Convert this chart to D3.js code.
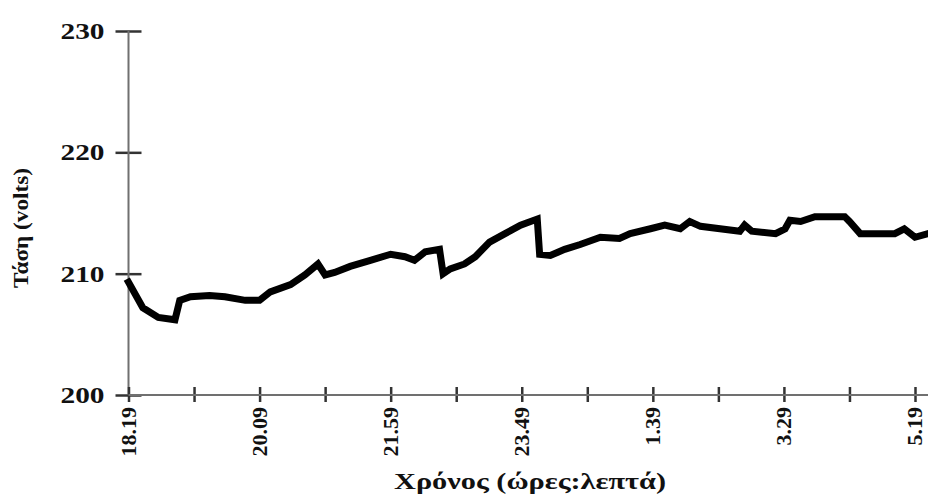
<!DOCTYPE html>
<html>
<head>
<meta charset="utf-8">
<script src="https://cdn.jsdelivr.net/npm/d3@7"></script>
<style>
  html, body { margin: 0; padding: 0; background: #fff; }
  svg { display: block; }
  text { font-family: "Liberation Serif", "Times New Roman", serif; font-weight: bold; }
</style>
</head>
<body>
<svg id="chart" width="928" height="495"></svg>
<script>
// Minutes elapsed since 18:19
const minutes = [0, 12, 25, 39, 43, 52, 68, 81, 98, 110, 119, 136, 148, 159, 165, 173, 186, 203, 220, 232,
                 240, 249, 261, 264, 270, 282, 291, 303, 316, 329, 343, 345, 354, 366, 379, 396, 412, 421, 438, 450,
                 463, 471, 480, 513, 517, 523, 543, 551, 555, 564, 576, 601, 605, 614, 631, 643, 651, 660, 671];
// Measured voltage (V)
const volts = [209.3, 207.2, 206.4, 206.2, 207.8, 208.1, 208.2, 208.1, 207.8, 207.8, 208.5, 209.1, 209.9, 210.8, 209.9, 210.1, 210.6, 211.1, 211.6, 211.4,
               211.1, 211.8, 212.0, 210.0, 210.4, 210.8, 211.4, 212.6, 213.3, 214.0, 214.5, 211.6, 211.5, 212.0, 212.4, 213.0, 212.9, 213.3, 213.7, 214.0,
               213.7, 214.3, 213.9, 213.5, 214.0, 213.5, 213.3, 213.7, 214.4, 214.3, 214.7, 214.7, 214.3, 213.3, 213.3, 213.3, 213.7, 213.0, 213.3];
// Axis ticks
const yTicks = [200, 210, 220, 230];
const xTickMinutes = [0, 55, 110, 165, 220, 275, 330, 385, 440, 495, 550, 605, 660];
const xTickLabels = ["18.19", "20.09", "21.59", "23.49", "1.39", "3.29", "5.19"];
const yTitle = "Τάση (volts)";
const xTitle = "Χρόνος (ώρες:λεπτά)";

const W = 928, H = 495;
const svg = d3.select("#chart");
const ink = "#111";

const x = d3.scaleLinear().domain([0, 660]).range([128.5, 915]);
const y = d3.scaleLinear().domain([200, 230]).range([395, 31]);
const axisColor = "#707070";

// Y axis
const yAxis = svg.append("g")
  .attr("transform", `translate(${x(0)},0)`)
  .call(d3.axisLeft(y).tickValues(yTicks).tickSize(13).tickPadding(11).tickFormat(d3.format("d")));
yAxis.select(".domain").remove();
yAxis.selectAll(".tick line").attr("x1", 13).attr("x2", -13)
  .attr("stroke", "#333").attr("stroke-width", 2.5);
yAxis.selectAll(".tick text")
  .style("font-size", "23px").attr("fill", ink)
  .attr("textLength", 44).attr("lengthAdjust", "spacingAndGlyphs");
yAxis.append("line")
  .attr("x1", 0).attr("x2", 0).attr("y1", y(230)).attr("y2", y(200))
  .attr("stroke", axisColor).attr("stroke-width", 2);

// X axis
const xAxis = svg.append("g")
  .attr("transform", `translate(0,${y(200)})`)
  .call(d3.axisBottom(x).tickValues(xTickMinutes).tickSize(7)
    .tickFormat(d => d % 110 === 0 ? xTickLabels[d / 110] : ""));
xAxis.select(".domain").remove();
xAxis.append("line")
  .attr("x1", x(0)).attr("x2", W).attr("y1", 0).attr("y2", 0)
  .attr("stroke", axisColor).attr("stroke-width", 2);
xAxis.selectAll(".tick line").attr("y1", -8).attr("y2", 7)
  .attr("stroke", "#333").attr("stroke-width", 2.5);
xAxis.selectAll(".tick text")
  .style("font-size", "22px").attr("fill", ink)
  .attr("text-anchor", "end")
  .attr("transform", "rotate(-90)")
  .attr("x", -12).attr("y", 0).attr("dy", "0.3em");

// Voltage trace
const line = d3.line()
  .x((d, i) => x(minutes[i]))
  .y(d => y(d))
  .curve(d3.curveLinear);
svg.append("path")
  .datum(volts)
  .attr("d", line)
  .attr("fill", "none")
  .attr("stroke", "#000")
  .attr("stroke-width", 7)
  .attr("stroke-linejoin", "miter")
  .attr("stroke-linecap", "square");

// Axis titles
svg.append("text")
  .attr("transform", `translate(28,${228}) rotate(-90)`)
  .attr("text-anchor", "middle")
  .attr("fill", ink)
  .style("font-size", "22px")
  .attr("textLength", 120).attr("lengthAdjust", "spacingAndGlyphs")
  .text(yTitle);
svg.append("text")
  .attr("x", 530).attr("y", 489)
  .attr("text-anchor", "middle")
  .attr("fill", ink)
  .style("font-size", "24px")
  .attr("textLength", 272).attr("lengthAdjust", "spacingAndGlyphs")
  .text(xTitle);
</script>
</body>
</html>
